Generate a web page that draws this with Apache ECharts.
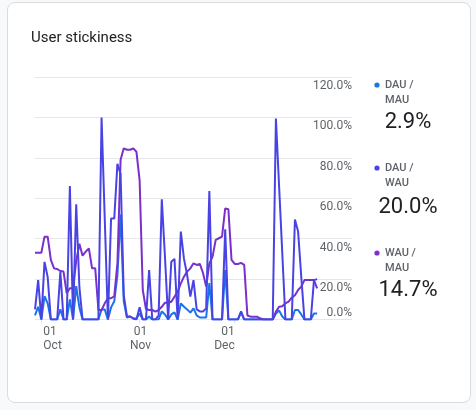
<!DOCTYPE html>
<html>
<head>
<meta charset="utf-8">
<script src="https://cdn.jsdelivr.net/npm/echarts@6/dist/echarts.min.js"></script>
<style>
  html, body { margin: 0; padding: 0; background: #f8f9fa; }
  #card { position: absolute; left: 7px; top: 2px; width: 462px; height: 399px;
          border: 1px solid #dadce0; border-radius: 8px; background: #ffffff; }
  #chart { position: absolute; left: 0; top: 0; width: 476px; height: 410px; }
</style>
</head>
<body>
<div id="card"></div>
<div id="chart"></div>
<script>
// ---- data ----
const titleText = 'User stickiness';
const monthNames = ['Jan','Feb','Mar','Apr','May','Jun','Jul','Aug','Sep','Oct','Nov','Dec'];
// daily categories: 29 Sep .. 07 Jan (axis extends past the last data point)
const firstDay = [2023, 8, 29];
const categoryCount = 101;
const categories = [];
for (let i = 0; i < categoryCount; i++) {
  const d = new Date(Date.UTC(firstDay[0], firstDay[1], firstDay[2] + i));
  categories.push(String(d.getUTCMonth() + 1).padStart(2, '0') + '-' + String(d.getUTCDate()).padStart(2, '0'));
}
const seriesNames = ['DAU / MAU', 'DAU / WAU', 'WAU / MAU'];
const legendLabels = ['DAU /\nMAU', 'DAU /\nWAU', 'WAU /\nMAU'];
const latestValues = [2.9, 20.0, 14.7];

const dauMau = [
  2, 6.3, 0, 11.5, 8, 0, 0, 0, 5, 0,
  0, 10, 0, 16.5, 6, 0, 0, 0, 0, 0,
  0, 5, 5, 0, 6, 9, 22, 52, 9, 1,
  1.5, 0.5, 0.5, 3, 0, 0, 1.5, 0, 0, 0,
  4, 2.5, 0, 2.5, 3.5, 0, 8, 6.3, 5, 3.4,
  5.5, 2, 1, 1, 1, 18, 0, 0, 0, 0,
  24.5, 0, 0, 0, 0, 3.5, 0, 0, 0, 0,
  0, 0, 0, 0, 0, 0, 3, 4.5, 1.5, 0,
  0, 0, 4.7, 4.7, 2.5, 0, 0, 0, 3, 3
];
const dauWau = [
  5, 19.5, 0, 28.5, 21, 0, 0, 0, 23.7, 0,
  0, 66, 0, 57, 16, 0, 0, 0, 0, 0,
  0, 100, 50, 0, 50, 50, 77, 72, 12, 1.5,
  1.5, 0.5, 0, 6, 0, 0, 24.5, 0, 0, 2,
  59.5, 31, 0, 28.6, 30, 0, 43.5, 30, 22, 11.3,
  19.5, 5, 4, 4, 5.5, 63.6, 0, 0, 0, 0,
  44.6, 0, 0, 0, 0, 4, 0, 0, 0, 0,
  0, 0, 0, 0, 0, 0, 99.5, 66, 33, 0,
  0, 0, 49.5, 43.5, 21, 0, 0, 0, 19.5, 20
];
const wauMau = [
  33, 33, 33, 41, 41, 29.5, 25.3, 25, 24, 23.7,
  13, 15.5, 15.5, 29, 37.5, 31.6, 33.6, 35.2, 25.3, 25.3,
  4.7, 4.7, 8, 10.5, 10.5, 11.5, 27.8, 79, 84.7, 84,
  84, 84.7, 83, 69, 14.6, 5.2, 4.7, 4.7, 3.9, 4.7,
  6.3, 8.3, 8.3, 8.8, 11.3, 13.8, 17.9, 21.2, 23.7, 25.3,
  27.8, 27, 27.5, 23, 16.3, 27.8, 31, 39.4, 40.2, 41,
  55, 54.6, 29.5, 27.5, 27.5, 28, 27, 2, 1.4, 1.4,
  1.4, 0.6, 0, 0, 0, 0, 3.9, 6.3, 6.6, 8,
  8.8, 10.8, 12, 14.6, 16.3, 19.5, 19.5, 19.5, 19.5, 15.4
];

// ---- styles ----
const colors = ['#1a73e8', '#4a43e4', '#7a30c9'];
const labelGray = '#5f6368';
const font = 'Roboto';

// month-start labels only where there is data
function isMonthStart(idx, val) { return idx < dauWau.length && /-01$/.test(val); }

const chart = echarts.init(document.getElementById('chart'), null, { renderer: 'canvas' });

const legendDotY = [85, 168, 253];
const legendValueY = [122, 207, 290];
const graphics = [];
seriesNames.forEach((n, i) => {
  graphics.push({
    type: 'circle', shape: { cx: 377, cy: legendDotY[i], r: 2.6 },
    style: { fill: colors[i] }, silent: true
  });
  graphics.push({
    type: 'text', x: 385, y: legendDotY[i] - 7.5, silent: true,
    style: { text: legendLabels[i], fill: labelGray, font: '500 11px ' + font,
             lineHeight: 15, align: 'left', verticalAlign: 'top' }
  });
  graphics.push({
    type: 'text', x: 408, y: legendValueY[i], silent: true,
    style: { text: latestValues[i].toFixed(1) + '%', fill: '#202124', font: '22px ' + font,
             align: 'center', verticalAlign: 'middle' }
  });
});

const seriesData = [dauMau, dauWau, wauMau];
const drawOrder = [0, 2, 1];

chart.setOption({
  animation: false,
  backgroundColor: 'transparent',
  title: {
    text: titleText, left: 31, top: 31, padding: 0,
    textStyle: { fontFamily: font, fontSize: 15, fontWeight: 'normal', color: '#202124' }
  },
  grid: { left: 35, right: 124, top: 77, height: 242.5, containLabel: false },
  xAxis: {
    type: 'category', data: categories, boundaryGap: false,
    axisLine: { show: false },
    axisTick: { show: true, interval: isMonthStart, length: 4, lineStyle: { color: '#e3e3e3' } },
    splitLine: { show: false },
    axisLabel: {
      interval: isMonthStart,
      formatter: function (v) {
        const m = parseInt(v.slice(0, 2), 10) - 1;
        return v.slice(3) + '\n' + monthNames[m];
      },
      color: labelGray, fontFamily: font, fontSize: 12, lineHeight: 14, margin: 5,
      align: 'center', alignMinLabel: 'left', alignMaxLabel: 'right',
      padding: [0, 0, 0, 2]
    }
  },
  yAxis: {
    type: 'value', position: 'right', min: 0, max: 120, interval: 20,
    axisLine: { show: false }, axisTick: { show: false },
    splitLine: { lineStyle: { color: '#e6e6e6', width: 1 } },
    axisLabel: {
      inside: true, margin: 0,
      formatter: function (v) { return v.toFixed(1) + '%'; },
      color: labelGray, fontFamily: font, fontSize: 12,
      verticalAlign: 'top', verticalAlignMinLabel: 'bottom', verticalAlignMaxLabel: 'top',
      padding: [3, 0, 1, 0]
    }
  },
  graphic: graphics,
  series: drawOrder.map(i => ({
    name: seriesNames[i], type: 'line', data: seriesData[i],
    showSymbol: false, symbol: 'none', smooth: false,
    lineStyle: { color: colors[i], width: 2 }, itemStyle: { color: colors[i] },
    z: 2 + drawOrder.indexOf(i)
  }))
});
</script>
</body>
</html>
